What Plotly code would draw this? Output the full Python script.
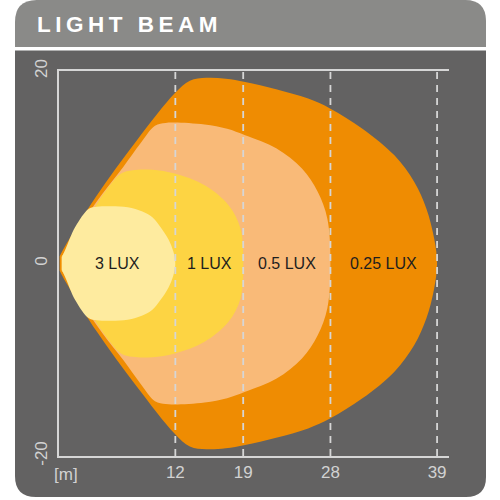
import plotly.graph_objects as go

# ---- data ----
reach_m = [12, 19, 28, 39]                 # x tick values (reach of each isolux line)
y_ticks = [-20, 0, 20]
lux_labels = ["3 LUX", "1 LUX", "0.5 LUX", "0.25 LUX"]

# upper half of each isolux contour (distance m, lateral m); lower half is mirrored
lux3_x = [0.29, 0.71, 1.67, 3.08, 3.9, 5.4, 7.1, 8.6, 9.63, 10.5, 11.3, 11.78, 12.0]
lux3_y = [0.64, 1.58, 3.79, 5.70, 5.90, 5.95, 5.85, 5.40, 4.80, 3.75, 2.50, 1.30, 0.0]

lux1_x = [0.29, 0.92, 3.08, 4.85, 6.4, 7.6, 9.63, 11.94, 15.02, 17.49, 18.72, 19.0]
lux1_y = [0.75, 1.58, 4.90, 7.61, 9.35, 9.70, 9.74, 9.34, 8.12, 6.05, 3.63, 0.0]

lux05_x = [0.29, 0.71, 2.73, 4.50, 6.63, 8.39, 9.9, 11.0, 11.94, 15.02, 17.34, 19.20, 22.45, 25.06, 26.70, 27.68, 28.0]
lux05_y = [0.75, 1.37, 4.70, 7.26, 10.03, 12.46, 14.30, 14.60, 14.64, 14.43, 13.99, 13.32, 11.94, 9.86, 7.43, 4.66, 0.0]

lux025_x = [0.07, 0.39, 3.79, 8.04, 11.94, 13.5, 15.2, 17.2, 19.2, 22.4, 25.7, 28.0, 31.3, 34.6, 36.65, 37.9, 38.7, 39.0]
lux025_y = [0.75, 1.37, 6.91, 12.80, 17.68, 19.00, 19.30, 19.20, 18.86, 18.10, 17.13, 16.09, 14.01, 11.24, 8.47, 5.70, 2.59, 0.0]

colors = ["#FEEB9F", "#FDD443", "#F9BA78", "#EF8C02"]

# ---- figure ----
W, H = 500, 500
ML, MR, MT, MB = 59, 51, 71, 44
PW, PH = W - ML - MR, H - MT - MB


def px(xp):
    return (xp - ML) / PW


def py(yp):
    return 1 - (yp - MT) / PH


def P(x, y):
    return f"{px(x):.5f},{py(y):.5f}"


fig = go.Figure()

contours = [(lux025_x, lux025_y, colors[3]), (lux05_x, lux05_y, colors[2]),
            (lux1_x, lux1_y, colors[1]), (lux3_x, lux3_y, colors[0])]
for xs, ys, c in contours:
    fx = list(xs) + list(reversed(xs[:-1]))
    fy = list(ys) + [-v for v in reversed(ys[:-1])]
    fig.add_trace(go.Scatter(x=fx, y=fy, mode="lines", fill="toself", fillcolor=c,
                             line=dict(width=0, shape="spline", smoothing=1.0, color=c),
                             hoverinfo="skip", showlegend=False))

# labels at band centres
starts = [0] + reach_m[:-1]
for lab, a, b in zip(lux_labels, starts, reach_m):
    fig.add_annotation(x=(a + b) / 2, y=0, text=lab, showarrow=False,
                       font=dict(family="Liberation Sans", size=16, color="#1e1e1e"))

shapes = []
# card: header + body
shapes.append(dict(type="path", xref="paper", yref="paper", layer="below",
                   path=f"M{P(15,47)} L{P(15,22)} Q{P(15,0)} {P(37,0)} L{P(465,0)} Q{P(486,0)} {P(486,21)} L{P(486,47)} Z",
                   fillcolor="#8A8A88", line=dict(width=0)))
shapes.append(dict(type="path", xref="paper", yref="paper", layer="below",
                   path=f"M{P(15,50.5)} L{P(486,50.5)} L{P(486,477)} Q{P(486,497)} {P(466,497)} L{P(36,497)} Q{P(15,497)} {P(15,476)} Z",
                   fillcolor="#636262", line=dict(width=0)))
# dashed reach lines
for r in reach_m:
    shapes.append(dict(type="line", xref="x", yref="paper", x0=r, x1=r, y0=0, y1=1, layer="above",
                       line=dict(color="#D6D6D6", width=1.8, dash="7px,6px")))
fig.update_layout(shapes=shapes)

fig.add_annotation(xref="paper", yref="paper", x=px(35), y=py(25), xanchor="left", yanchor="middle",
                   text="\u2009".join("LIGHT BEAM"), showarrow=False,
                   font=dict(family="Liberation Sans", size=22.5, color="#FFFFFF", weight="bold"))
fig.add_annotation(xref="paper", yref="paper", x=px(66), y=py(474), xanchor="center", yanchor="middle",
                   text="[m]", showarrow=False,
                   font=dict(family="Liberation Sans", size=17, color="#D2D2D2"))

fig.update_xaxes(range=[0, 40.23], tickvals=reach_m, ticktext=[str(v) for v in reach_m],
                 showgrid=False, zeroline=False, showline=True, mirror=True,
                 linecolor="#D6D6D6", linewidth=2, ticks="", layer="above traces",
                 tickfont=dict(family="Liberation Sans", size=17, color="#D2D2D2"),
                 ticklabelstandoff=0)
fig.update_yaxes(range=[-20, 20], tickvals=y_ticks, ticktext=[str(v) for v in y_ticks],
                 tickangle=-90, showgrid=False, zeroline=False, showline=True, mirror=False,
                 linecolor="#D6D6D6", linewidth=2, ticks="", layer="above traces",
                 tickfont=dict(family="Liberation Sans", size=17, color="#D2D2D2"),
                 ticklabelstandoff=3)

fig.update_layout(width=W, height=H, margin=dict(l=ML, r=MR, t=MT, b=MB),
                  paper_bgcolor="#FFFFFF", plot_bgcolor="rgba(0,0,0,0)", showlegend=False)

fig.write_html("out.html", config={"displayModeBar": False},
               post_script="document.body.style.margin='0';document.body.style.overflow='hidden';")
